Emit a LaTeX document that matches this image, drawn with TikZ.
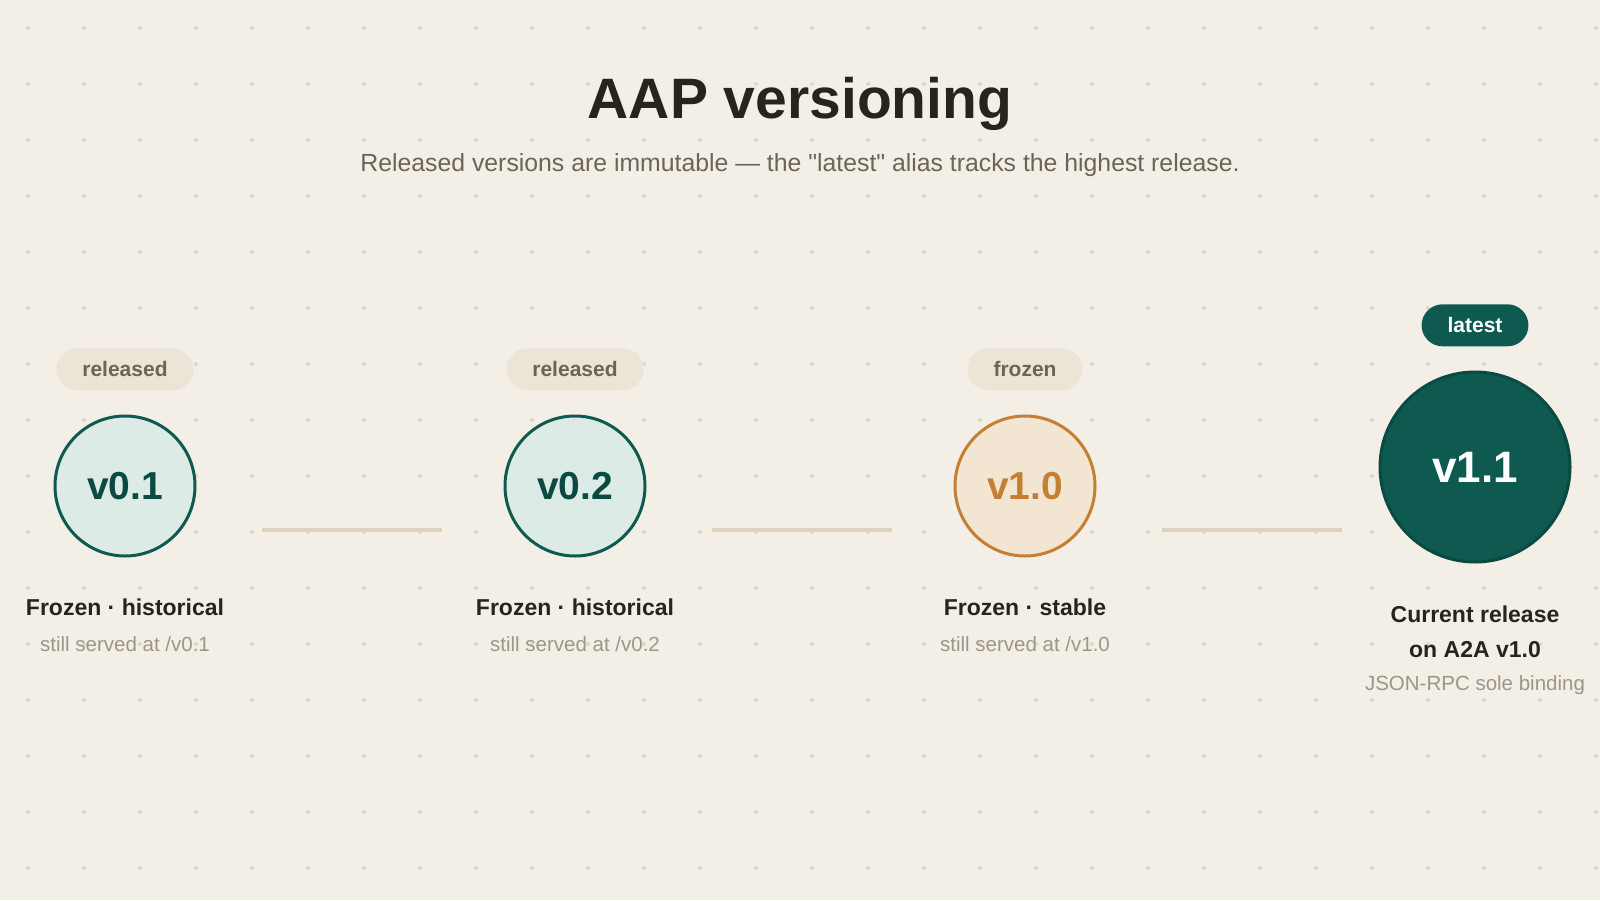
\documentclass[tikz,border=0pt]{standalone}
\usepackage{fontspec}
\setmainfont{Liberation Sans}[Ligatures=TeXOff]
\usetikzlibrary{positioning}
\definecolor{paper}{HTML}{F3EFE6}
\definecolor{dotgrey}{HTML}{DCD8C7}
\definecolor{ink}{HTML}{27241D}
\definecolor{muted}{HTML}{6B6557}
\definecolor{faint}{HTML}{9C9687}
\definecolor{teal}{HTML}{0F5A50}
\definecolor{tealdark}{HTML}{0B4A42}
\definecolor{tealpale}{HTML}{DDEBE6}
\definecolor{amber}{HTML}{C47F35}
\definecolor{amberpale}{HTML}{F2E5D1}
\definecolor{tagfill}{HTML}{ECE5D7}
\definecolor{railc}{HTML}{DCD2BE}
\tikzset{pill/.style={rounded corners=21pt, minimum height=42pt, inner xsep=26pt, inner ysep=0pt, font=\fontsize{21}{24}\selectfont\bfseries}}
\tikzset{tag/.style={pill, fill=tagfill, text=muted}}
\tikzset{ver/.style={circle, line width=3pt, minimum size=140pt, inner sep=0pt, font=\fontsize{39}{44}\selectfont\bfseries}}
\tikzset{old/.style={ver, draw=teal, fill=tealpale, text=tealdark}}
\tikzset{stable/.style={ver, draw=amber, fill=amberpale, text=amber}}
\tikzset{head/.style={ver, minimum size=190pt, draw=tealdark, fill=teal, text=white, font=\fontsize{44}{50}\selectfont\bfseries}}
\tikzset{caption/.style={anchor=base, text=ink, font=\fontsize{23}{26}\selectfont\bfseries}}
\tikzset{note/.style={anchor=base, text=faint, font=\fontsize{20.5}{24}\selectfont}}
\tikzset{rail/.style={draw=railc, line width=4pt}}

\begin{document}
\begin{tikzpicture}[x=1pt, y=-1pt]
\fill [paper] (0,0) rectangle (1600,900);
\foreach \i in {0,...,28} {
  \foreach \j in {0,...,15} {
    \fill [dotgrey] (28+56*\i, 28+56*\j) circle (2);
  }
}
\path [use as bounding box] (0,0) rectangle (1600,900);

% heading
\node [anchor=base, text=ink, font=\fontsize{57}{62}\selectfont\bfseries] (title) at (800,118) {AAP versioning};
\node [anchor=base, text=muted, font=\fontsize{24.8}{28}\selectfont] (sub) at (800,171) {Released versions are immutable — the "latest" alias tracks the highest release.};

% versions
\node [old] (v01) at (125,486) {v0.1};
\node [old] (v02) at (575,486) {v0.2};
\node [stable] (v10) at (1025,486) {v1.0};
\node [head] (v11) at (1475,467) {v1.1};

\node [tag, above=24pt of v01] (t01) {released};
\node [tag, above=24pt of v02] (t02) {released};
\node [tag, above=24pt of v10] (t10) {frozen};
\node [pill, fill=teal, text=white, above=24pt of v11] (t11) {latest};

\foreach \a in {v01,v02,v10} {
  \draw [rail] ([xshift=65pt,yshift=-44pt]\a.east) -- ++(180,0);
}

\node [caption] (c01) at ([yshift=-129pt]v01.center) {Frozen · historical};
\node [note] (n01) at ([yshift=-165pt]v01.center) {still served at /v0.1};
\node [caption] (c02) at ([yshift=-129pt]v02.center) {Frozen · historical};
\node [note] (n02) at ([yshift=-165pt]v02.center) {still served at /v0.2};
\node [caption] (c10) at ([yshift=-129pt]v10.center) {Frozen · stable};
\node [note] (n10) at ([yshift=-165pt]v10.center) {still served at /v1.0};
\node [caption] (c11) at ([yshift=-155pt]v11.center) {Current release};
\node [caption] (d11) at ([yshift=-190pt]v11.center) {on A2A v1.0};
\node [note] (n11) at ([yshift=-223pt]v11.center) {JSON-RPC sole binding};
\end{tikzpicture}
\end{document}
